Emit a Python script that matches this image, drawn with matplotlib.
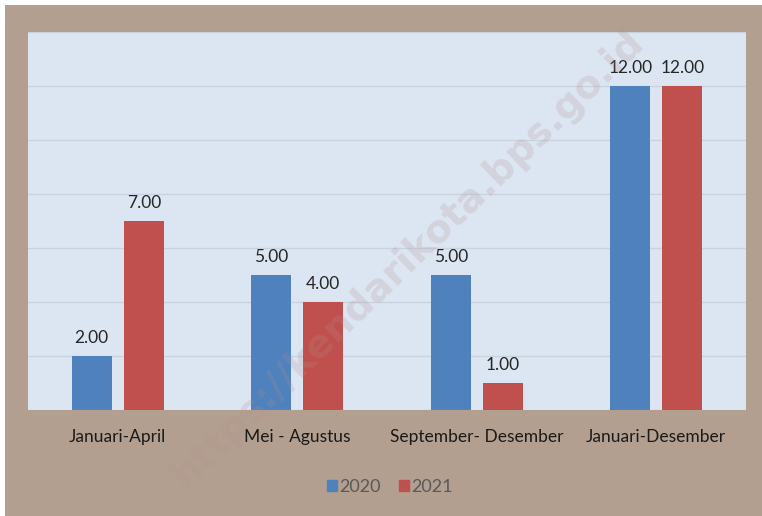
import numpy as np
import matplotlib
matplotlib.use("Agg")
import matplotlib.pyplot as plt
from matplotlib.patches import Rectangle, Patch

# Data
categories = ["Januari-April", "Mei - Agustus", "September- Desember", "Januari-Desember"]
series_names = ["2020", "2021"]
values_2020 = [2.00, 5.00, 5.00, 12.00]
values_2021 = [7.00, 4.00, 1.00, 12.00]

blue = "#4f81bd"
red = "#c0504d"

plt.rcParams["font.family"] = ["Lato", "DejaVu Sans"]

fig = plt.figure(figsize=(7.62, 5.16), dpi=100, facecolor="white")

# textured-looking brown frame (solid approximation)
fig.patches.append(Rectangle((5 / 762, -0.1), 1.2, 1.1 - 5 / 516, transform=fig.transFigure,
                             facecolor="#b39f8f", edgecolor="none", zorder=-5))

ax = fig.add_axes([28 / 762, 1 - 410 / 516, 718 / 762, 378 / 516])
ax.set_zorder(1)
ax.set_facecolor("#dce6f2")

x = np.arange(len(categories))
w = 0.223
off = 0.145
b1 = ax.bar(x - off, values_2020, w, color=blue, label=series_names[0], zorder=3)
b2 = ax.bar(x + off, values_2021, w, color=red, label=series_names[1], zorder=3)

for bars, vals in [(b1, values_2020), (b2, values_2021)]:
    for rect, v in zip(bars, vals):
        ax.annotate(f"{v:.2f}", (rect.get_x() + rect.get_width() / 2, v),
                    xytext=(0, 7), textcoords="offset points", ha="center", va="bottom",
                    fontsize=12.5, color="#262626", zorder=4)

ax.set_xlim(-0.5, len(categories) - 0.5)
ax.set_ylim(0, 14)
ax.set_yticks(np.arange(0, 15, 2))
ax.yaxis.grid(True, color="#c9d3df", linewidth=1)
ax.set_axisbelow(True)
ax.tick_params(axis="y", left=False, labelleft=False)
ax.tick_params(axis="x", length=0, pad=14, labelsize=12.5, labelcolor="#1a1a1a")
ax.set_xticks(x)
ax.set_xticklabels(categories)
for s in ax.spines.values():
    s.set_visible(False)

handles = [Patch(color=blue), Patch(color=red)]
leg = fig.legend(handles, series_names, loc="center", bbox_to_anchor=(390 / 762, 1 - 487 / 516),
                 ncol=2, frameon=False, fontsize=13, handlelength=0.55, handleheight=0.55,
                 handletextpad=0.15, columnspacing=1.0)
for t in leg.get_texts():
    t.set_color("#595959")

# watermark
fig.text(0.535, 0.5, "https://kendarikota.bps.go.id", rotation=44, fontsize=28,
         color="#b09090", alpha=0.22, ha="center", va="center", zorder=10,
         fontweight="bold", family=["DejaVu Sans"])

fig.savefig("out.png", dpi=100, facecolor=fig.get_facecolor())
